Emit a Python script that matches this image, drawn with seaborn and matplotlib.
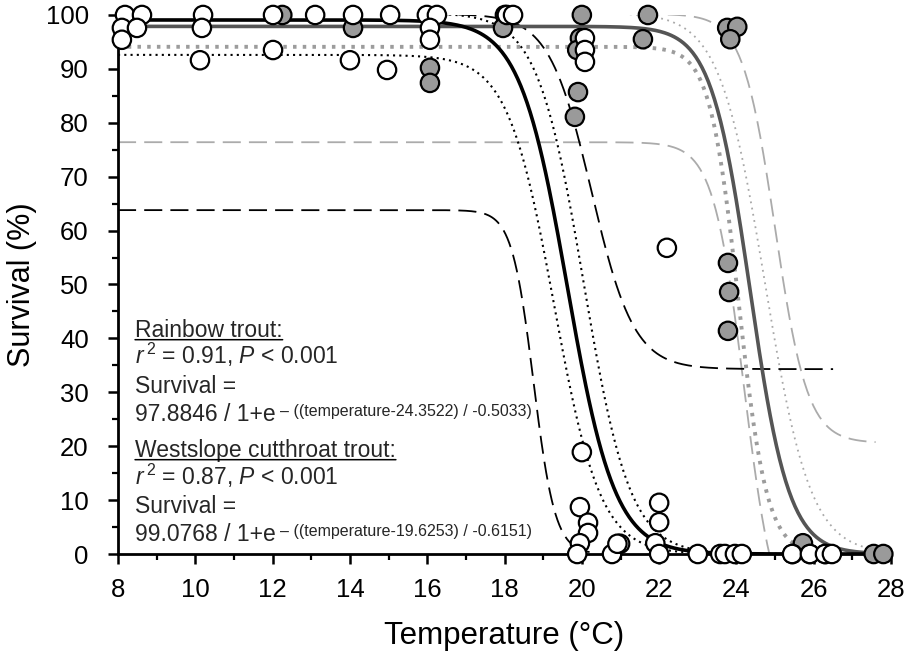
import numpy as np
import pandas as pd
import matplotlib
matplotlib.use("Agg")
import matplotlib.pyplot as plt
from matplotlib.ticker import MultipleLocator
import seaborn as sns

# ---------------- data ----------------
# Rainbow trout observations (temperature degC, survival %)
rb_temp = [12.25, 14.08, 16.07, 16.07, 18.01, 17.96, 20.0, 19.95, 19.88, 19.9, 19.82,
           21.71, 21.58, 23.76, 24.02, 23.84, 23.78, 23.81, 23.78, 25.72,
           25.45, 25.9, 26.3, 27.55, 27.8]
rb_surv = [100, 97.6, 90.2, 87.4, 100, 97.6, 100, 95.7, 93.5, 85.7, 81.1,
           100, 95.5, 97.6, 97.8, 95.5, 54.0, 48.6, 41.4, 2.0,
           0, 0, 0, 0, 0]

# Westslope cutthroat trout observations
ct_temp = [8.18, 8.62, 8.1, 8.49, 8.1, 10.2, 10.17, 10.12, 12.01, 12.01, 13.1,
           14.08, 14.0, 14.96, 15.04, 15.99, 16.25, 16.07, 16.07, 18.06, 18.22,
           20.08, 20.08, 20.08, 22.2, 20.0, 19.95, 20.16, 20.16, 19.95, 19.88,
           20.78, 20.99, 20.92, 22.0, 22.0, 21.9, 22.0, 23.0, 23.58, 23.7,
           23.96, 24.14, 25.44, 25.9, 26.29, 26.47]
ct_surv = [100, 100, 97.6, 97.6, 95.4, 100, 97.6, 91.6, 100, 93.5, 100,
           100, 91.6, 89.8, 100, 100, 100, 97.6, 95.4, 100, 100,
           95.7, 93.5, 91.3, 56.8, 18.9, 8.7, 5.8, 3.9, 2.0, 0,
           0, 1.9, 1.9, 9.5, 5.9, 2.0, 0, 0, 0, 0,
           0, 0, 0, 0, 0, 0]

# fitted logistic curves: (asymptote, midpoint, scale)
rb_fit = [97.8846, 24.3522, 0.5033]
ct_fit = [99.0768, 19.6253, 0.6151]

# confidence / prediction bands: (top, midpoint, scale, floor, t_start, t_end)
ct_ci_low = [92.6, 19.28, 0.60, 0.0, 8, 28]
ct_ci_up = [100.4, 20.05, 0.60, 0.0, 8, 28]
ct_pi_low = [63.8, 18.75, 0.28, 0.0, 8, 20.2]
ct_pi_up = [100.2, 20.25, 0.55, 34.3, 8, 26.5]
rb_ci_low = [94.1, 24.05, 0.37, 0.0, 8, 28]
rb_ci_up = [100.4, 24.74, 0.59, 0.0, 8, 28]
rb_pi_low = [76.4, 24.2, 0.40, -15.0, 8, 25.0]
rb_pi_up = [100.2, 25.0, 0.42, 20.6, 8, 27.6]

x_ticks = [8, 10, 12, 14, 16, 18, 20, 22, 24, 26, 28]
y_ticks = [0, 10, 20, 30, 40, 50, 60, 70, 80, 90, 100]


def logistic(t, top, mid, scale, floor=0.0):
    return floor + (top - floor) / (1.0 + np.exp((t - mid) / scale))


def band_frame(p):
    t = np.linspace(p[4], p[5], 500)
    return pd.DataFrame({"t": t, "s": logistic(t, p[0], p[1], p[2], p[3])})


def fit_frame(p):
    t = np.linspace(8, 28, 500)
    return pd.DataFrame({"t": t, "s": logistic(t, p[0], p[1], p[2])})


# ---------------- style ----------------
sns.set_theme(style="ticks")
plt.rcParams["font.family"] = ["Liberation Sans", "DejaVu Sans"]
plt.rcParams["mathtext.fontset"] = "custom"
plt.rcParams["mathtext.rm"] = "Liberation Sans"
plt.rcParams["mathtext.it"] = "Liberation Sans:italic"

fig = plt.figure(figsize=(9.1, 6.6), dpi=100)
ax = fig.add_axes([0.1297, 0.1606, 0.8495, 0.8167])


def draw(df, color, lw, ls, z=2):
    sns.lineplot(data=df, x="t", y="s", ax=ax, color=color, linewidth=lw,
                 linestyle=ls, estimator=None, sort=False, zorder=z)


# bands (rainbow - grey)
draw(band_frame(rb_pi_low), "#ababab", 1.3, (0, (10, 4.5)))
draw(band_frame(rb_pi_up), "#ababab", 1.3, (0, (10, 4.5)))
draw(band_frame(rb_ci_up), "#a8a8a8", 1.3, (0, (1, 2.5)))
draw(band_frame(rb_ci_low), "#9c9c9c", 2.8, (0, (0.9, 1.6)))
# bands (cutthroat - black)
draw(band_frame(ct_pi_low), "black", 1.3, (0, (10, 4.5)))
draw(band_frame(ct_pi_up), "black", 1.3, (0, (10, 4.5)))
draw(band_frame(ct_ci_low), "black", 1.5, (0, (1, 2)))
draw(band_frame(ct_ci_up), "black", 1.5, (0, (1, 2)))
# fitted curves
draw(fit_frame(rb_fit), "#555555", 2.6, "-", 3)
draw(fit_frame(ct_fit), "black", 2.6, "-", 3)

# observations
pts = pd.DataFrame({
    "temp": rb_temp + ct_temp,
    "surv": rb_surv + ct_surv,
    "species": ["Rainbow trout"] * len(rb_temp) + ["Westslope cutthroat trout"] * len(ct_temp),
})
sns.scatterplot(data=pts, x="temp", y="surv", hue="species",
                palette={"Rainbow trout": "#9a9a9a", "Westslope cutthroat trout": "white"},
                edgecolor="black", linewidth=1.6, s=175, legend=False,
                zorder=5, clip_on=False, ax=ax)

# ---------------- axes ----------------
ax.set_xlim(8, 28)
ax.set_ylim(0, 100)
ax.set_xticks(x_ticks)
ax.set_yticks(y_ticks)
ax.xaxis.set_minor_locator(MultipleLocator(1))
ax.yaxis.set_minor_locator(MultipleLocator(5))
ax.tick_params(which="major", direction="out", length=7, width=1.8,
               labelsize=18.5, pad=10, color="black", labelcolor="black")
ax.tick_params(axis="y", which="major", pad=14)
ax.tick_params(which="minor", direction="out", length=4, width=1.6, color="black")
sns.despine(ax=ax)
for side in ("left", "bottom"):
    ax.spines[side].set_linewidth(2.0)
    ax.spines[side].set_color("black")
ax.set_xlabel("Temperature (°C)", fontsize=22.5, labelpad=14, color="black")
ax.set_ylabel("Survival (%)", fontsize=22, labelpad=6, color="black")

# ---------------- annotation ----------------
fs = 16.5
sup_fs = 11.5
x0 = 0.022
blocks = [
    ("Rainbow trout:", r"$\mathit{r}^{\,2}$ = 0.91, $\mathit{P}$ < 0.001",
     "97.8846 / 1+e", "\u2013 ((temperature-24.3522) / -0.5033)",
     [0.4026, 0.3525, 0.2987, 0.2468]),
    ("Westslope cutthroat trout:", r"$\mathit{r}^{\,2}$ = 0.87, $\mathit{P}$ < 0.001",
     "99.0768 / 1+e", "\u2013 ((temperature-19.6253) / -0.6151)",
     [0.180, 0.128, 0.076, 0.024]),
]
for title, stats, eq, sup, ys in blocks:
    t1 = ax.text(x0, ys[0], title, transform=ax.transAxes, fontsize=fs, va="baseline")
    ax.annotate("", xy=(0, 0.10), xycoords=t1, xytext=(1, 0.10), textcoords=t1,
                arrowprops=dict(arrowstyle="-", lw=1.1, color="black", shrinkA=0, shrinkB=0))
    ax.text(x0, ys[1], stats, transform=ax.transAxes, fontsize=fs, va="baseline")
    ax.text(x0, ys[2], "Survival =", transform=ax.transAxes, fontsize=fs, va="baseline")
    t4 = ax.text(x0, ys[3], eq, transform=ax.transAxes, fontsize=fs, va="baseline")
    ax.annotate(sup, xy=(1, 0.45), xycoords=t4, xytext=(3, 0), textcoords="offset points",
                fontsize=sup_fs, va="baseline", ha="left")

fig.savefig("out.png", dpi=100)
